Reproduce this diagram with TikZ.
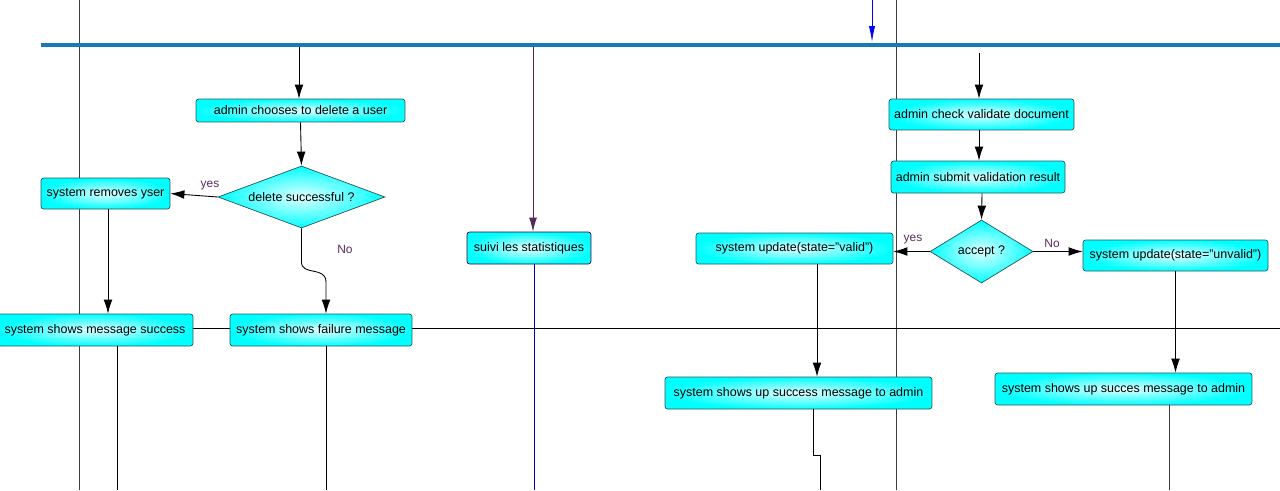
\documentclass[tikz,border=0pt]{standalone}
\usepackage{fontspec}
\setmainfont{Liberation Sans}
\usepackage{tikz}
\usetikzlibrary{calc}
\usetikzlibrary{arrows.meta}
\usetikzlibrary{shapes.geometric}
\usetikzlibrary{positioning}
\definecolor{barblue}{RGB}{22,122,182}
\definecolor{edgeteal}{RGB}{40,85,95}
\definecolor{labpurple}{RGB}{90,40,90}
\definecolor{lanegray}{RGB}{60,60,60}
\tikzset{>={Latex[length=8pt,width=5pt]}}
\tikzstyle{act} = [draw=edgeteal, rounded corners=1.5pt, shade, shading=radial, inner color=cyan!12!white, outer color=cyan, inner sep=0, font=\fontsize{7.1pt}{8pt}\selectfont]
\tikzstyle{dec} = [diamond, draw=edgeteal, shade, shading=radial, inner color=cyan!12!white, outer color=cyan, inner sep=0, aspect=2.7, font=\fontsize{7.1pt}{8pt}\selectfont]
\tikzstyle{lab} = [draw=none, inner sep=0, text=labpurple, font=\fontsize{6.8pt}{8pt}\selectfont]
\tikzstyle{flow} = [->, line width=0.5pt]

\begin{document}
\begin{tikzpicture}[x=0.02cm, y=-0.02cm]
\useasboundingbox (0,0) rectangle (1280,490);
% lanes
\draw [lanegray, line width=0.5pt] (79,0) -- (79,490);
\draw [lanegray, line width=0.5pt] (896,0) -- (896,490);
\draw [black, line width=0.5pt] (0,328) -- (1280,328);
\draw [barblue, line width=0.08cm] (41,45) -- (1280,45);
\draw [->, blue, line width=0.5pt, >={Latex[length=9pt,width=3.5pt]}] (872,0) -- (872,42);
\coordinate (t1) at (299,47);
\coordinate (t2) at (533,47);
\coordinate (t3) at (979,53);
\coordinate (b1) at (534,490);

\node [act, minimum width=4.18cm, minimum height=0.46cm] (chooses) at (300.5,110.5) {admin chooses to delete a user};
\node [dec, minimum width=3.34cm, minimum height=1.24cm] (del) at (301.5,197) {delete successful ?};
\node [act, minimum width=2.58cm, minimum height=0.62cm] (removes) at (105.5,193.5) {system removes yser};
\node [act, minimum width=3.92cm, minimum height=0.64cm] (succ) at (95,330) {system shows message success};
\node [act, minimum width=3.64cm, minimum height=0.64cm] (fail) at (321,330) {system shows failure message};
\node [act, draw=violet!40!black, inner color=cyan!8!white, minimum width=2.48cm, minimum height=0.64cm] (suivi) at (529,248) {suivi les statistiques};
\node [act, minimum width=3.7cm, minimum height=0.62cm] (check) at (981.5,114.5) {admin check validate document};
\node [act, minimum width=3.48cm, minimum height=0.64cm] (submit) at (978,177) {admin submit validation result};
\node [dec, minimum width=2.06cm, minimum height=1.26cm] (accept) at (981.5,251.5) {accept ?};
\node [act, minimum width=3.94cm, minimum height=0.62cm] (valid) at (794.5,248.5) {system update(state="valid")};
\node [act, minimum width=3.7cm, minimum height=0.62cm] (unvalid) at (1175.5,255.5) {system update(state="unvalid")};
\node [act, minimum width=5.34cm, minimum height=0.64cm] (upok) at (798.5,393) {system shows up success message to admin};
\node [act, minimum width=5.14cm, minimum height=0.64cm] (upko) at (1123.5,389) {system shows up succes message to admin};

\node [lab] (yes1) at (210,186) {yes};
\node [lab] (no1) at (345,249) {No};
\node [lab] (yes2) at (913,240) {yes};
\node [lab] (no2) at (1052,243) {No};

\draw [flow] (t1) -- (t1 |- chooses.north);
\draw [flow] (chooses.south) -- (del.north);
\draw [flow] (del.west) -- (removes.east);
\draw [flow] (del.south) -- (301.5,262) .. controls (301.5,276) and (326,266) .. (326,282) -- ($(fail.north)+(5,0)$);
\draw [flow] ($(removes.south)+(2.5,0)$) -- ($(removes.south |- succ.north)+(2.5,0)$);
\draw [line width=0.5pt] ($(succ.south)+(22,0)$) -- ($(succ.south)+(22,144)$);
\draw [line width=0.5pt] ($(fail.south)+(5,0)$) -- ($(fail.south)+(5,144)$);
\draw [flow, draw=labpurple, >={Latex[length=8pt,width=4.5pt]}] (t2) -- (t2 |- suivi.north);
\draw [blue!70!black, line width=0.5pt] (suivi.south -| b1) -- (b1);
\draw [flow] (t3) -- (t3 |- check.north);
\draw [flow] (check.south -| t3) -- (t3 |- submit.north);
\draw [flow] ($(submit.south)+(4,0)$) -- (accept.north);
\draw [flow] (accept.west) -- (accept.west -| valid.east);
\draw [flow] (accept.east) -- (accept.east -| unvalid.west);
\draw [flow] ($(valid.south)+(22.5,0)$) -- ($(valid.south |- upok.north)+(22.5,0)$);
\draw [flow] (unvalid.south) -- (unvalid.south |- upko.north);
\draw [line width=0.5pt] ($(upok.south)+(14.5,0)$) -- ($(upok.south)+(14.5,46)$) -- ($(upok.south)+(21.5,46)$) -- ($(upok.south)+(21.5,81)$);
\draw [lanegray, line width=0.5pt] ($(upko.south)+(45.5,0)$) -- ($(upko.south)+(45.5,85)$);
\end{tikzpicture}
\end{document}
